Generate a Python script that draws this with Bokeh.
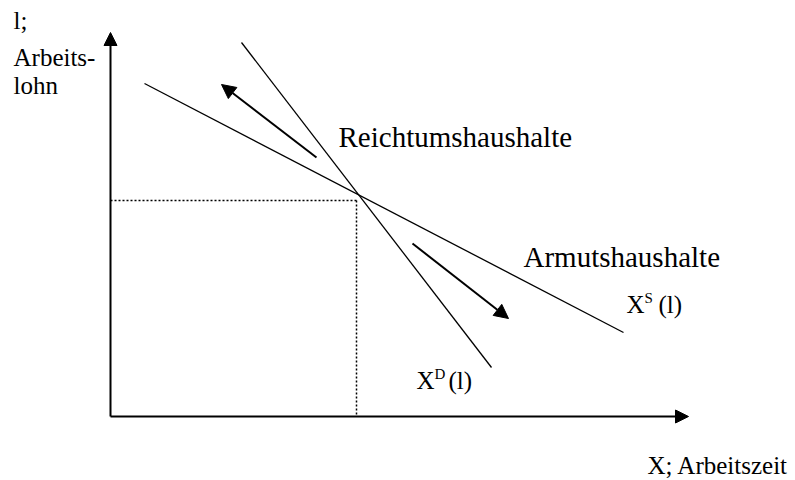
from bokeh.plotting import figure
from bokeh.models import Range1d, Arrow, NormalHead
from bokeh.core.properties import value
from bokeh.embed import file_html
from bokeh.resources import INLINE

# ---- diagram data (origin at the axis corner, units ~ pixels) ----
supply_x = [34, 513]          # X^S (l)
supply_y = [333, 84]
demand_x = [131, 381]         # X^D (l)
demand_y = [374, 49]
equilibrium_x = 246
equilibrium_y = 216
axis_x_max = 578
axis_y_max = 384
shift_x0 = [206, 302]         # shift arrows (Reichtum / Armut)
shift_y0 = [259, 173]
shift_x1 = [111, 398]
shift_y1 = [332, 98]

big_labels = ["Reichtumshaushalte", "Armutshaushalte"]
big_x = [228, 413]
big_y = [280, 160]

curve_main = ["X", "X"]
curve_sup = ["S", "D"]
curve_arg = ["(l)", "(l)"]
curve_x = [516, 306]
curve_y = [112, 36]
curve_sup_dx = 18
curve_arg_dx = 32
curve_sup_dy = 7

axis_labels = ["l;", "Arbeits-", "lohn", "X; Arbeitszeit"]
axis_lab_x = [-97, -97, -97, 537]
axis_lab_y = [396, 359, 331, -49]

FONT = value("Liberation Serif")

p = figure(width=795, height=480, x_range=Range1d(-110, 685), y_range=Range1d(-64, 416),
           output_backend="svg", toolbar_location=None, min_border=0,
           x_axis_type=None, y_axis_type=None)
p.grid.visible = False
p.outline_line_color = None

# axes with arrow heads
p.add_layout(Arrow(end=NormalHead(size=13, fill_color="black", line_color="black"),
                   x_start=0, y_start=0, x_end=0, y_end=axis_y_max,
                   line_width=2, line_color="black"))
p.add_layout(Arrow(end=NormalHead(size=13, fill_color="black", line_color="black"),
                   x_start=0, y_start=0, x_end=axis_x_max, y_end=0,
                   line_width=2, line_color="black"))

# curves
p.line(supply_x, supply_y, line_color="black", line_width=1.3)
p.line(demand_x, demand_y, line_color="black", line_width=1.3)

# dotted equilibrium guides
p.line([0, equilibrium_x], [equilibrium_y, equilibrium_y], line_color="black",
       line_width=1.5, line_dash="2 2")
p.line([equilibrium_x, equilibrium_x], [equilibrium_y, 0], line_color="black",
       line_width=1.5, line_dash="2 2")

# shift arrows
for xs, ys, xe, ye in zip(shift_x0, shift_y0, shift_x1, shift_y1):
    p.add_layout(Arrow(end=NormalHead(size=14, fill_color="black", line_color="black"),
                       x_start=xs, y_start=ys, x_end=xe, y_end=ye,
                       line_width=2, line_color="black"))

# labels
p.text(x=big_x, y=big_y, text=big_labels, text_font=FONT, text_font_size="29px",
       text_baseline="alphabetic", text_align="left", text_color="black")
p.text(x=curve_x, y=curve_y, text=curve_main, text_font=FONT, text_font_size="25px",
       text_baseline="alphabetic", text_align="left", text_color="black")
p.text(x=[v + curve_sup_dx for v in curve_x], y=[v + curve_sup_dy for v in curve_y],
       text=curve_sup, text_font=FONT, text_font_size="15px",
       text_baseline="alphabetic", text_align="left", text_color="black")
p.text(x=[v + curve_arg_dx for v in curve_x], y=curve_y, text=curve_arg, text_font=FONT,
       text_font_size="25px", text_baseline="alphabetic", text_align="left", text_color="black")
p.text(x=axis_lab_x, y=axis_lab_y, text=axis_labels, text_font=FONT, text_font_size="25px",
       text_baseline="alphabetic", text_align="left", text_color="black")

open("out.html", "w").write(file_html(p, INLINE))
